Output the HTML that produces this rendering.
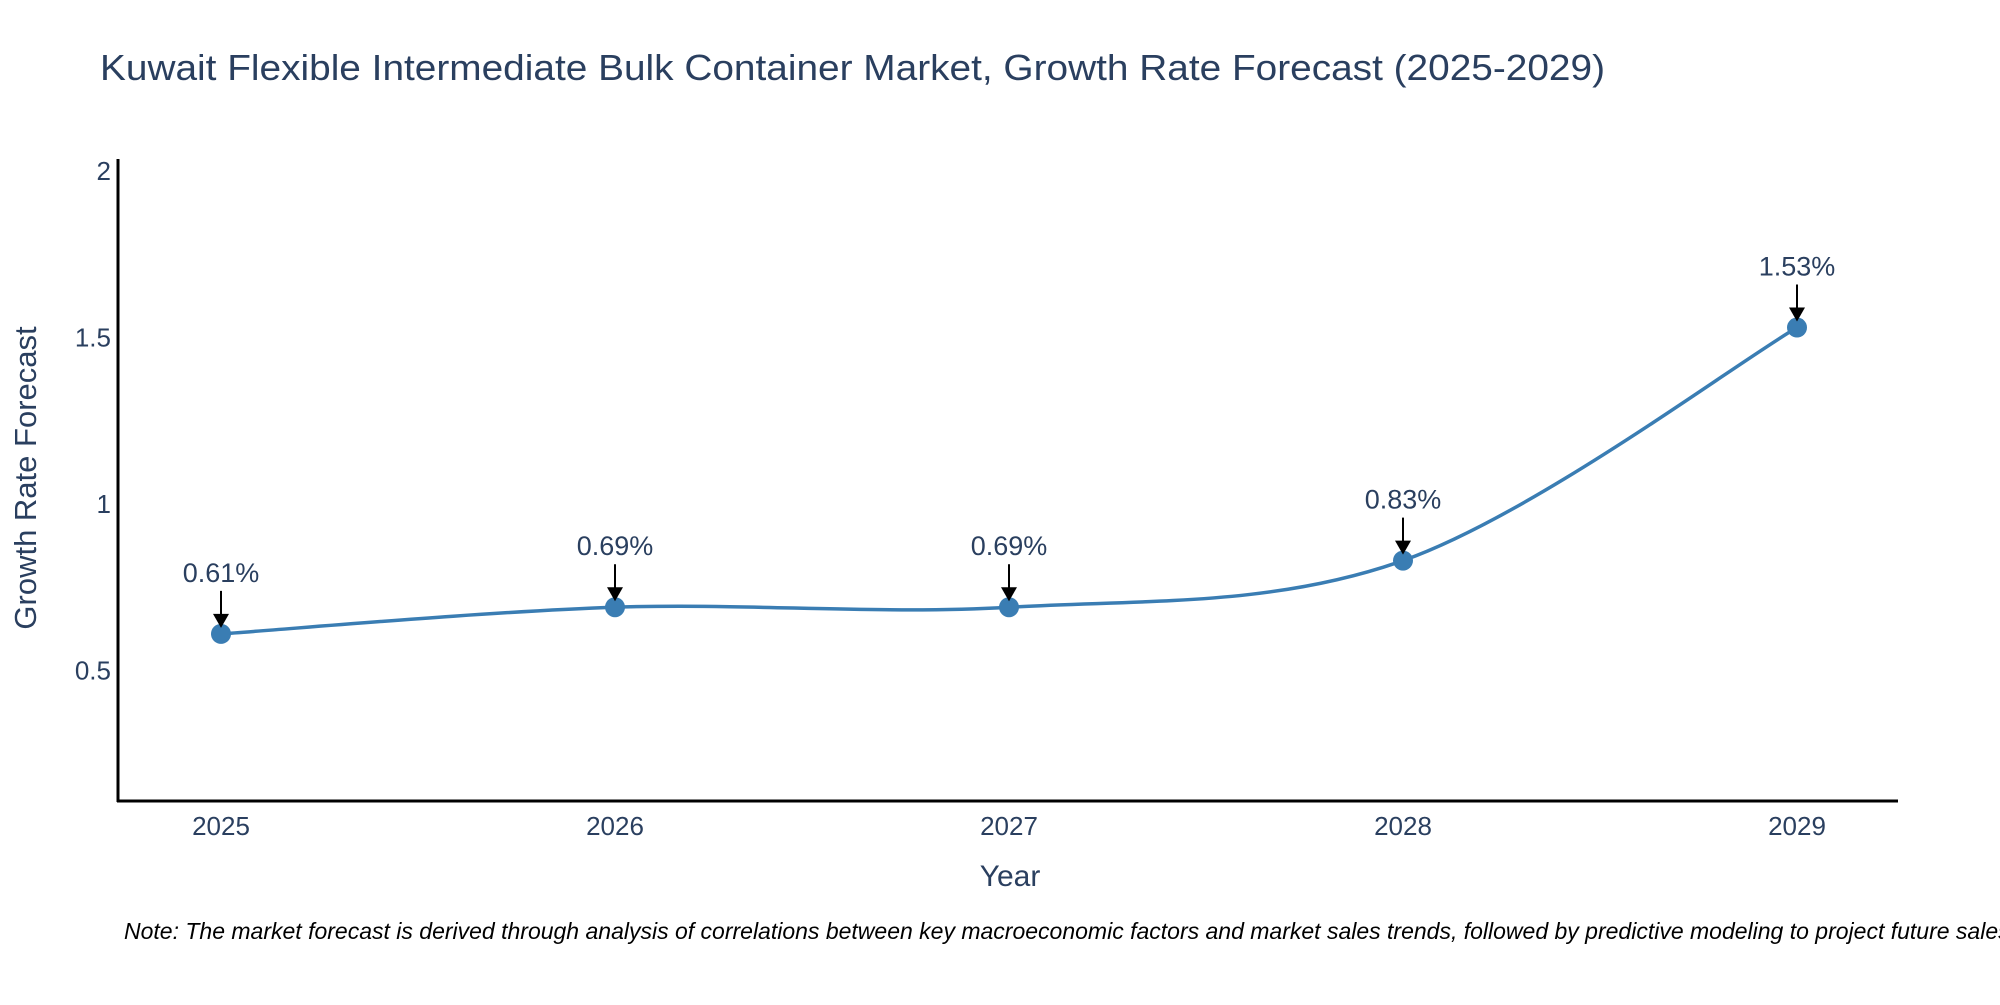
<!DOCTYPE html>
<html><head><meta charset="utf-8"><style>
body{margin:0;background:#fff;}
svg text{font-family:"Liberation Sans",sans-serif;fill:#2a3f5f;}
</style></head><body>
<svg id="chart" width="2000" height="1000" xmlns="http://www.w3.org/2000/svg">
<text x="100" y="80" font-size="36" textLength="1505" lengthAdjust="spacingAndGlyphs">Kuwait Flexible Intermediate Bulk Container Market, Growth Rate Forecast (2025-2029)</text>
<g id="yticks"></g><g id="xticks"></g>
<path id="line" fill="none" stroke="#3a7db3" stroke-width="3.5"/>
<g id="marks"></g>
<line x1="118" y1="159" x2="118" y2="802" stroke="#000" stroke-width="3"/>
<line x1="117" y1="801" x2="1898" y2="801" stroke="#000" stroke-width="3"/>
<text x="1010" y="886" font-size="30" text-anchor="middle">Year</text>
<text transform="translate(36,478) rotate(-90)" font-size="31" text-anchor="middle">Growth Rate Forecast</text>
<text x="124" y="939" font-size="23" font-style="italic" style="fill:#000">Note: The market forecast is derived through analysis of correlations between key macroeconomic factors and market sales trends, followed by predictive modeling to project future sales.</text>
</svg>
<script>
const years=[2025,2026,2027,2028,2029];
const values=[0.61,0.69,0.69,0.83,1.53];
const labels=["0.61%","0.69%","0.69%","0.83%","1.53%"];
const yTicks=[0.5,1,1.5,2];
const yTickLabels=["0.5","1","1.5","2"];
const NS="http://www.w3.org/2000/svg";
function xs(y){return 221+(y-2025)*394;}
function ys(v){return 837-333*v;}
function mk(tag,attrs,parent){const e=document.createElementNS(NS,tag);for(const k in attrs)e.setAttribute(k,attrs[k]);parent.appendChild(e);return e;}
const yt=document.getElementById('yticks'),xt=document.getElementById('xticks'),mg=document.getElementById('marks');
yTicks.forEach((v,i)=>{const t=mk('text',{x:111,y:ys(v)+9,'font-size':26,'text-anchor':'end'},yt);t.textContent=yTickLabels[i];

});
years.forEach(y=>{const t=mk('text',{x:xs(y),y:835,'font-size':26,'text-anchor':'middle'},xt);t.textContent=String(y);

});
const P=years.map((y,i)=>[xs(y),ys(values[i])]);
let d='M'+P[0][0]+','+P[0][1];
for(let i=0;i<P.length-1;i++){const p0=P[i-1]||P[i],p1=P[i],p2=P[i+1],p3=P[i+2]||P[i+1];const k=6;
d+=` C${p1[0]+(p2[0]-p0[0])/k},${p1[1]+(p2[1]-p0[1])/k} ${p2[0]-(p3[0]-p1[0])/k},${p2[1]-(p3[1]-p1[1])/k} ${p2[0]},${p2[1]}`;}
document.getElementById('line').setAttribute('d',d);
P.forEach((p,i)=>{
const c=mk('circle',{cx:p[0],cy:p[1],r:10,fill:'#3a7db3'},mg);


const l=mk('line',{x1:p[0],y1:p[1]-43,x2:p[0],y2:p[1]-18,stroke:'#000','stroke-width':2},mg);


const h=mk('polygon',{points:`${p[0]-8},${p[1]-20} ${p[0]+8},${p[1]-20} ${p[0]},${p[1]-6}`,fill:'#000'},mg);


const t=mk('text',{x:p[0],y:p[1]-52,'font-size':27,'text-anchor':'middle'},mg);t.textContent=labels[i];


});
</script>
</body></html>
